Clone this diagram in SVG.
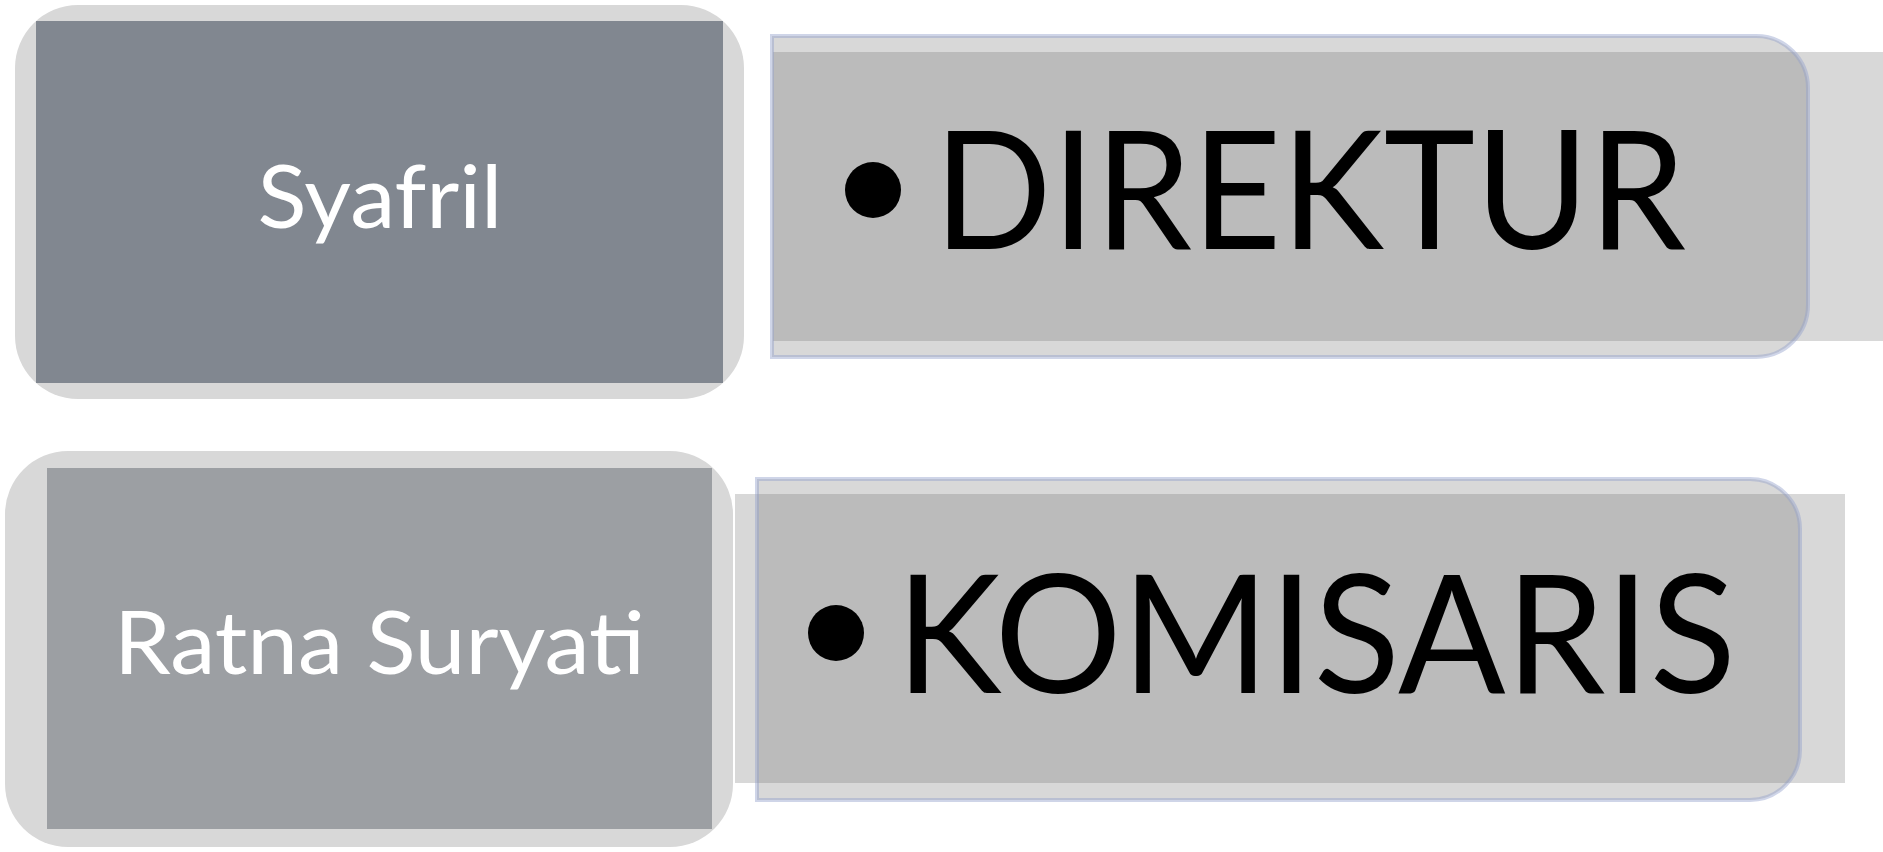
<svg xmlns="http://www.w3.org/2000/svg" width="1883" height="852" viewBox="0 0 1883 852">
<style>
.outer{fill:#d8d8d8}
.band{fill:#d8d8d8}
.pill{fill:rgb(103,103,103);fill-opacity:0.256;stroke:rgb(146,160,203);stroke-opacity:0.44;stroke-width:4}
.name{font-family:Lato,"Open Sans","Liberation Sans",sans-serif;font-size:88px;fill:#ffffff}
.role{font-family:Lato,"Open Sans","Liberation Sans",sans-serif;font-size:165px;fill:#000000}
</style>
<rect width="1883" height="852" fill="#ffffff"/>
<g id="connectors"></g>
<g id="node-syafril">
<rect class="outer" x="15" y="5" width="729" height="394" rx="63" ry="63"/>
<rect x="36" y="21" width="687" height="362" fill="#818790"/>
<text class="name" x="380" y="228" text-anchor="middle" textLength="245" lengthAdjust="spacingAndGlyphs">Syafril</text>
</g>
<g id="node-direktur">
<rect class="band" x="773" y="52" width="1110" height="289"/>
<path class="pill" d="M772,36 H1756 A52,52 0 0 1 1808,88 V305 A52,52 0 0 1 1756,357 H772 Z"/>
<circle cx="873" cy="190" r="28" fill="#000000"/>
<text class="role" x="934" y="249" textLength="752" lengthAdjust="spacingAndGlyphs">DIREKTUR</text>
</g>
<g id="node-ratna">
<rect class="outer" x="5" y="451" width="728" height="396" rx="63" ry="63"/>
<rect x="47" y="468" width="665" height="361" fill="#9c9fa3"/>
<text class="name" x="379.5" y="674" text-anchor="middle" textLength="531" lengthAdjust="spacingAndGlyphs">Ratna Suryati</text>
</g>
<g id="node-komisaris">
<rect class="band" x="735" y="494" width="1110" height="289"/>
<path class="pill" d="M757,479 H1750 A50,50 0 0 1 1800,529 V750 A50,50 0 0 1 1750,800 H757 Z"/>
<circle cx="836" cy="633" r="28" fill="#000000"/>
<text class="role" x="896" y="693" textLength="840" lengthAdjust="spacingAndGlyphs">KOMISARIS</text>
</g>
</svg>
